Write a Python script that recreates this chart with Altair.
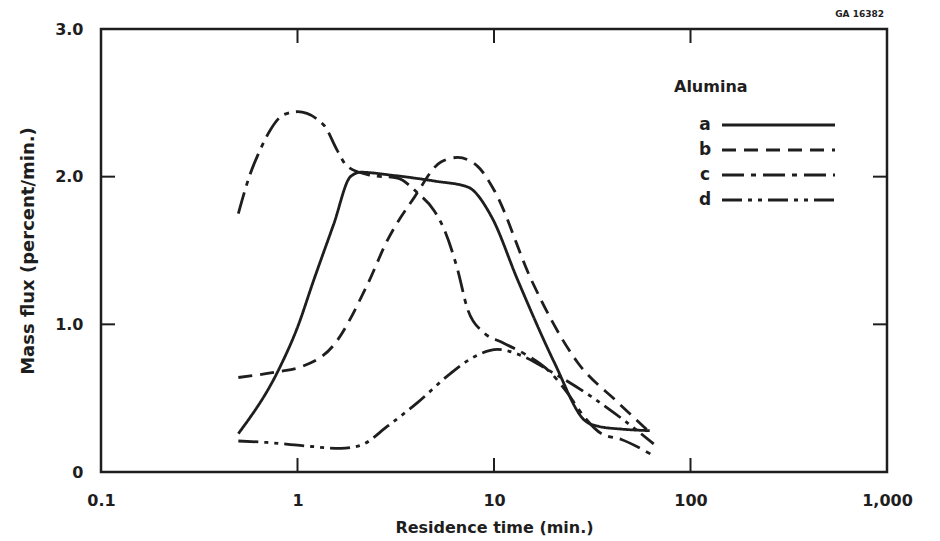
import altair as alt
import pandas as pd

# ---- data ----
series_names = ["a", "b", "c", "d"]

a_x = [0.5, 0.8, 1.0, 1.21, 1.53, 1.86, 2.1, 3.0, 5.0, 7.35, 9.7, 13.2, 20.3, 28.9, 33.8, 45, 62]
a_y = [0.26, 0.69, 0.98, 1.30, 1.68, 2.0, 2.03, 2.01, 1.97, 1.93, 1.73, 1.30, 0.74, 0.35, 0.31, 0.29, 0.28]

b_x = [0.5, 0.8, 1.03, 1.53, 2.27, 2.87, 3.93, 5.37, 6.53, 8.26, 10.0, 15.5, 26.7, 42.8, 63]
b_y = [0.64, 0.68, 0.71, 0.86, 1.27, 1.57, 1.86, 2.10, 2.13, 2.07, 1.91, 1.30, 0.74, 0.47, 0.26]

c_x = [0.5, 0.575, 0.635, 0.73, 0.85, 1.0, 1.36, 1.59, 1.79, 2.35, 3.23, 4.08, 4.96, 5.59,
       6.53, 7.35, 8.94, 10.9, 14.3, 19.5, 23.8, 28.9, 35.2, 44.5, 63]
c_y = [1.75, 2.02, 2.16, 2.32, 2.42, 2.44, 2.35, 2.18, 2.07, 2.01, 1.99, 1.89, 1.77, 1.64,
       1.37, 1.10, 0.94, 0.88, 0.80, 0.67, 0.53, 0.37, 0.26, 0.22, 0.12]

d_x = [0.5, 0.7, 1.03, 1.66, 2.09, 2.87, 4.08, 6.04, 7.94, 10.4, 13.7, 19.5, 31.3, 45.9, 65]
d_y = [0.21, 0.20, 0.18, 0.16, 0.18, 0.31, 0.47, 0.67, 0.78, 0.83, 0.79, 0.68, 0.51, 0.35, 0.19]

x_tick_values = [0.1, 1, 10, 100, 1000]
x_inner_ticks = [1, 10, 100]
y_tick_values = [0, 1, 2, 3]
y_inner_ticks = [1, 2]

legend_title = "Alumina"
x_title = "Residence time (min.)"
y_title = "Mass flux (percent/min.)"
corner_label = "GA 16382"

# ---- build tables ----
rows = []
for name, xs, ys in zip(series_names, [a_x, b_x, c_x, d_x], [a_y, b_y, c_y, d_y]):
    for i, (xv, yv) in enumerate(zip(xs, ys)):
        rows.append({"series": name, "t": xv, "flux": yv, "order": i})
df = pd.DataFrame(rows)
legend_df = pd.DataFrame({"series": series_names})
xt_df = pd.DataFrame({"t": x_inner_ticks})
yt_df = pd.DataFrame({"flux": y_inner_ticks})

W, H = 786, 443
INK = "#1e1e1e"
FONT = "DejaVu Sans"

dash_scale = alt.Scale(domain=series_names,
                       range=[[1, 0], [14, 8], [22, 7, 5, 7], [20, 6, 4, 6, 4, 6]])
xscale = alt.Scale(type="log", domain=[0.1, 1000], nice=False)
yscale = alt.Scale(domain=[0, 3], nice=False)

x_axis = alt.Axis(values=x_tick_values, title=x_title, ticks=False, domain=False,
                  grid=False, labelPadding=20, titlePadding=11, labelFlush=False,
                  titleFontSize=16,
                  labelExpr="datum.value >= 1 ? format(datum.value, ',') : '0.1'")
y_axis = alt.Axis(values=y_tick_values, title=y_title, ticks=False, domain=False,
                  grid=False, labelPadding=18, titlePadding=17, labelFlush=False,
                  titleFontSize=18,
                  labelExpr="datum.value == 0 ? '0' : format(datum.value, '.1f')")

X = alt.X("t:Q", scale=xscale, axis=x_axis, title=x_title)
Y = alt.Y("flux:Q", scale=yscale, axis=y_axis, title=y_title)

curves = alt.Chart(df).mark_line(color=INK, strokeWidth=2.8, interpolate="monotone").encode(
    x=X, y=Y,
    strokeDash=alt.StrokeDash("series:N", scale=dash_scale, legend=None),
    detail="series:N",
    order="order:Q",
)

xt_bottom = alt.Chart(xt_df).mark_rule(color=INK, strokeWidth=2).encode(
    x=X, y=alt.value(H), y2=alt.value(H - 14))
xt_top = alt.Chart(xt_df).mark_rule(color=INK, strokeWidth=2).encode(
    x=X, y=alt.value(0), y2=alt.value(14))
yt_left = alt.Chart(yt_df).mark_rule(color=INK, strokeWidth=2).encode(
    y=Y, x=alt.value(0), x2=alt.value(14))
yt_right = alt.Chart(yt_df).mark_rule(color=INK, strokeWidth=2).encode(
    y=Y, x=alt.value(W - 14), x2=alt.value(W))

main = alt.layer(curves, xt_bottom, xt_top, yt_left, yt_right)

leg_y = alt.Y("series:N", scale=alt.Scale(type="point", domain=series_names, range=[96, 171], padding=0),
              axis=None)
leg_lines = alt.Chart(legend_df).mark_rule(color=INK, strokeWidth=2.8).encode(
    y=leg_y, x=alt.value(621), x2=alt.value(734),
    strokeDash=alt.StrokeDash("series:N", scale=dash_scale, legend=None))
leg_labels = alt.Chart(legend_df).mark_text(color=INK, font=FONT, fontSize=17, fontWeight="bold",
                                            align="center", baseline="middle").encode(
    y=leg_y, x=alt.value(604), text="series:N")
leg = alt.layer(leg_lines, leg_labels)

leg_title = alt.Chart(pd.DataFrame({"s": [legend_title]})).mark_text(
    color=INK, font=FONT, fontSize=16, fontWeight="bold", align="left", baseline="middle"
).encode(x=alt.value(573), y=alt.value(58), text="s:N")

corner = alt.Chart(pd.DataFrame({"s": [corner_label]})).mark_text(
    color=INK, font=FONT, fontSize=9, fontWeight="bold", align="right", baseline="middle"
).encode(x=alt.value(783), y=alt.value(-15), text="s:N")

chart = alt.layer(main, leg, leg_title, corner).resolve_scale(
    y="independent"
).properties(
    width=W, height=H,
    autosize=alt.AutoSizeParams(type="none"),
    padding={"left": 101, "top": 29, "right": 53, "bottom": 69},
    background="white",
).configure_view(
    stroke=INK, strokeWidth=2.5
).configure_axis(
    labelFont=FONT, titleFont=FONT, labelFontSize=16,
    labelFontWeight="bold", titleFontWeight="bold", labelColor=INK, titleColor=INK,
)

chart.save("out.html", embed_options={"renderer": "svg", "actions": False})
